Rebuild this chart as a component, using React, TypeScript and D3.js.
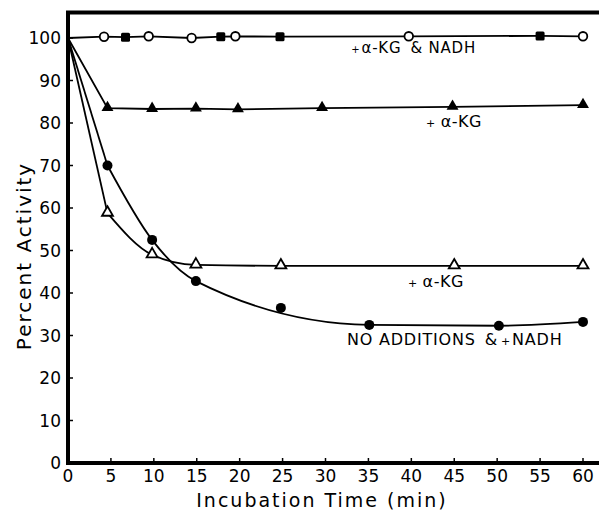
import React, { useEffect, useRef } from 'react';
import * as d3 from 'd3';

// every curve starts from full activity at t = 0
const startTime = 0;
const startValue = 100;

// + alpha-KG & NADH : open circles and filled squares
const kgNadhCircleTimes = [4.2, 9.4, 14.4, 19.5, 39.7, 60];
const kgNadhCircleValues = [100.3, 100.4, 100, 100.4, 100.4, 100.4];
const kgNadhSquareTimes = [6.7, 17.8, 24.7, 55];
const kgNadhSquareValues = [100.2, 100.3, 100.3, 100.5];

// + alpha-KG (filled triangles)
const kgFilledTimes = [4.6, 9.8, 14.9, 19.8, 29.6, 44.8, 60];
const kgFilledValues = [83.5, 83.3, 83.4, 83.2, 83.5, 83.8, 84.2];

// + alpha-KG (open triangles)
const kgOpenTimes = [4.6, 9.8, 14.9, 24.8, 45, 60];
const kgOpenValues = [58.8, 49, 46.6, 46.4, 46.4, 46.4];

// no additions & + NADH (filled circles); the 25 min point sits off the fit
const noAddTimes = [4.6, 9.8, 14.9, 24.8, 35.1, 50.2, 60];
const noAddValues = [70, 52.5, 42.8, 36.5, 32.5, 32.3, 33.2];
const noAddOffFit = [24.8];

const xTicks = [0, 5, 10, 15, 20, 25, 30, 35, 40, 45, 50, 55, 60];
const yTicks = [0, 10, 20, 30, 40, 50, 60, 70, 80, 90, 100];

const width = 599;
const height = 510;
const font = '"DejaVu Sans", sans-serif';

type Pt = [number, number];
const zip = (t: number[], v: number[]): Pt[] => t.map((d, i) => [d, v[i]]);

const App = () => {
  const svgRef = useRef<SVGSVGElement>(null);

  useEffect(() => {
    const svg = d3.select(svgRef.current);
    svg.selectAll('*').remove();

    const x = d3.scaleLinear().domain([0, 60]).range([68, 583]);
    const y = d3.scaleLinear().domain([0, 100]).range([463, 38]);

    const line = d3.line<Pt>().x(d => x(d[0])).y(d => y(d[1]));
    const smooth = d3.line<Pt>().x(d => x(d[0])).y(d => y(d[1])).curve(d3.curveMonotoneX);

    const g = svg.append('g');

    // frame: left, bottom, top (the right side is cut off)
    g.append('line').attr('x1', x(0)).attr('x2', x(0)).attr('y1', y(106)).attr('y2', y(0) + 2)
      .attr('stroke', '#000').attr('stroke-width', 4);
    g.append('line').attr('x1', x(0) - 2).attr('x2', width).attr('y1', y(0)).attr('y2', y(0))
      .attr('stroke', '#000').attr('stroke-width', 4);
    g.append('line').attr('x1', x(0) - 2).attr('x2', width).attr('y1', y(106)).attr('y2', y(106))
      .attr('stroke', '#000').attr('stroke-width', 4);

    // inward ticks
    g.selectAll('line.xtick').data(xTicks.slice(1)).enter().append('line')
      .attr('x1', d => x(d)).attr('x2', d => x(d))
      .attr('y1', y(0)).attr('y2', y(0) - 5)
      .attr('stroke', '#000').attr('stroke-width', 1.5);
    g.selectAll('line.ytick').data(yTicks.slice(1)).enter().append('line')
      .attr('x1', x(0)).attr('x2', x(0) + 5)
      .attr('y1', d => y(d)).attr('y2', d => y(d))
      .attr('stroke', '#000').attr('stroke-width', 1.5);

    g.selectAll('text.xlab').data(xTicks).enter().append('text')
      .attr('x', d => x(d)).attr('y', 482)
      .attr('text-anchor', 'middle')
      .style('font-family', font).style('font-size', '17px')
      .text(d => d);
    g.selectAll('text.ylab').data(yTicks).enter().append('text')
      .attr('x', 61).attr('y', d => y(d) + 6)
      .attr('text-anchor', 'end')
      .style('font-family', font).style('font-size', '17px')
      .text(d => d);

    g.append('text')
      .attr('x', 322).attr('y', 507)
      .attr('text-anchor', 'middle')
      .style('font-family', font).style('font-size', '19px').style('letter-spacing', '2px')
      .text('Incubation Time (min)');
    g.append('text')
      .attr('transform', 'translate(31,256) rotate(-90)')
      .attr('text-anchor', 'middle')
      .style('font-family', font).style('font-size', '20px').style('letter-spacing', '2px')
      .text('Percent Activity');

    const start: Pt = [startTime, startValue];
    const stroke = (p: any) => p.attr('fill', 'none').attr('stroke', '#000').attr('stroke-width', 1.8);

    // + alpha-KG & NADH line
    const topPts = zip(
      kgNadhCircleTimes.concat(kgNadhSquareTimes),
      kgNadhCircleValues.concat(kgNadhSquareValues)
    ).sort((a, b) => a[0] - b[0]);
    g.append('path').attr('d', line([start, ...topPts])).call(stroke);

    // + alpha-KG (filled)
    const filledPts = zip(kgFilledTimes, kgFilledValues);
    g.append('path').attr('d', line([start, ...filledPts])).call(stroke);

    // + alpha-KG (open)
    const openPts = zip(kgOpenTimes, kgOpenValues);
    g.append('path').attr('d', line([start, openPts[0]])).call(stroke);
    g.append('path').attr('d', smooth(openPts)).call(stroke);

    // no additions
    const noAddPts = zip(noAddTimes, noAddValues);
    const noAddFit = noAddPts.filter(d => !noAddOffFit.includes(d[0]));
    g.append('path').attr('d', line([start, noAddFit[0]])).call(stroke);
    g.append('path').attr('d', smooth(noAddFit)).call(stroke);

    // markers
    g.selectAll('circle.open').data(zip(kgNadhCircleTimes, kgNadhCircleValues)).enter().append('circle')
      .attr('cx', d => x(d[0])).attr('cy', d => y(d[1])).attr('r', 4.3)
      .attr('fill', '#fff').attr('stroke', '#000').attr('stroke-width', 1.8);
    g.selectAll('rect.sq').data(zip(kgNadhSquareTimes, kgNadhSquareValues)).enter().append('rect')
      .attr('x', d => x(d[0]) - 4.5).attr('y', d => y(d[1]) - 4.5)
      .attr('width', 9).attr('height', 9).attr('rx', 1.5).attr('fill', '#000');

    const tri = d3.symbol().type(d3.symbolTriangle).size(62);
    g.selectAll('path.ftri').data(filledPts).enter().append('path')
      .attr('d', tri)
      .attr('transform', d => `translate(${x(d[0])},${y(d[1]) - 0.5})`)
      .attr('fill', '#000');
    g.selectAll('path.otri').data(openPts).enter().append('path')
      .attr('d', d3.symbol().type(d3.symbolTriangle).size(52))
      .attr('transform', d => `translate(${x(d[0])},${y(d[1]) - 0.5})`)
      .attr('fill', '#fff').attr('stroke', '#000').attr('stroke-width', 1.8);

    g.selectAll('circle.fill').data(noAddPts).enter().append('circle')
      .attr('cx', d => x(d[0])).attr('cy', d => y(d[1])).attr('r', 5)
      .attr('fill', '#000');

    // curve labels: [text, font size, gap before]
    const label = (t: number, v: number, spacing: number, parts: [string, number, number][]) => {
      const txt = g.append('text')
        .attr('x', x(t)).attr('y', y(v))
        .style('font-family', font).style('letter-spacing', `${spacing}px`);
      parts.forEach(([s, sz, gap]) => {
        txt.append('tspan').attr('dx', gap).style('font-size', `${sz}px`).text(s);
      });
    };
    label(33, 96.5, 0.8, [['+', 10, 0], ['α-KG', 15, 1], ['& NADH', 15, 9]]);
    label(41.7, 79, 0.5, [['+', 11, 0], ['α-KG', 16, 5]]);
    label(39.6, 41.3, 0.5, [['+', 11, 0], ['α-KG', 16, 5]]);
    label(32.5, 27.8, 0.8, [['NO ADDITIONS', 16, 0], ['&', 16, 9], ['+', 11, 3], ['NADH', 16, 1]]);
  }, []);

  return (
    <svg
      ref={svgRef}
      width={width}
      height={height}
      style={{ position: 'absolute', left: 0, top: 0, background: '#fff' }}
    />
  );
};

export default App;
